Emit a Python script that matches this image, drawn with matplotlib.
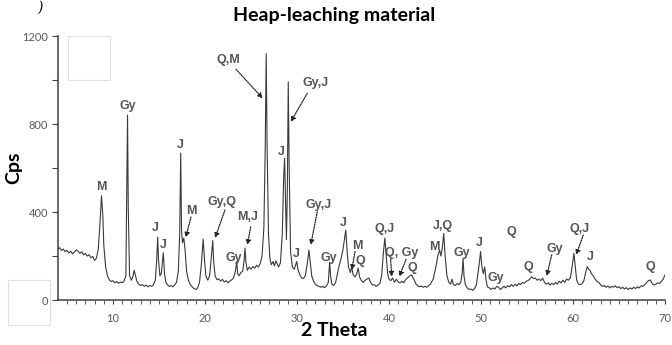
import matplotlib
matplotlib.use("Agg")
import matplotlib.pyplot as plt
from matplotlib.patches import Rectangle

# diffractogram vertices: 2 theta (deg), intensity (cps)
two_theta = [
    4.0, 4.2, 4.4, 4.6, 4.8, 5.0, 5.2, 5.4, 5.6, 5.8, 6.0, 6.2, 6.4, 6.6, 6.8,
    7.0, 7.2, 7.4, 7.6, 7.8, 8.0, 8.2, 8.4, 8.6, 8.75, 8.9, 9.0, 9.2, 9.4, 9.6,
    9.8, 10.0, 10.2, 10.4, 10.6, 10.8, 11.0, 11.2, 11.4, 11.5, 11.58, 11.66,
    11.8, 12.0, 12.15, 12.3, 12.45, 12.6, 12.8, 13.0, 13.2, 13.4, 13.6, 13.8,
    14.0, 14.2, 14.4, 14.6, 14.75, 14.86, 14.95, 15.1, 15.25, 15.47, 15.6,
    15.75, 15.9, 16.1, 16.3, 16.5, 16.7, 16.9, 17.1, 17.25, 17.36, 17.45, 17.55,
    17.7, 17.85, 18.0, 18.2, 18.4, 18.6, 18.8, 19.0, 19.2, 19.4, 19.6, 19.8,
    19.95, 20.1, 20.3, 20.5, 20.7, 20.84, 20.95, 21.1, 21.3, 21.5, 21.7, 21.9,
    22.1, 22.3, 22.5, 22.7, 22.9, 23.1, 23.3, 23.45, 23.55, 23.7, 23.9, 24.1,
    24.25, 24.35, 24.45, 24.6, 24.8, 25.0, 25.2, 25.4, 25.6, 25.8, 26.0, 26.2,
    26.4, 26.55, 26.65, 26.75, 26.9, 27.05, 27.2, 27.4, 27.55, 27.7, 27.85,
    28.0, 28.2, 28.4, 28.55, 28.65, 28.75, 28.85, 28.95, 29.05, 29.15, 29.3,
    29.5, 29.7, 29.85, 29.97, 30.1, 30.3, 30.5, 30.7, 30.9, 31.1, 31.3, 31.45,
    31.6, 31.8, 32.0, 32.2, 32.4, 32.6, 32.8, 33.0, 33.2, 33.4, 33.55, 33.65,
    33.8, 34.0, 34.2, 34.4, 34.6, 34.8, 35.0, 35.2, 35.3, 35.45, 35.6, 35.8,
    35.95, 36.1, 36.3, 36.5, 36.65, 36.8, 37.0, 37.2, 37.4, 37.6, 37.8, 38.0,
    38.2, 38.4, 38.6, 38.8, 39.0, 39.2, 39.4, 39.55, 39.7, 39.85, 40.0, 40.2,
    40.4, 40.6, 40.8, 41.0, 41.2, 41.4, 41.6, 41.8, 42.0, 42.2, 42.45, 42.7,
    42.9, 43.1, 43.3, 43.5, 43.7, 43.9, 44.1, 44.3, 44.5, 44.8, 45.1, 45.3,
    45.5, 45.65, 45.8, 45.95, 46.1, 46.3, 46.5, 46.7, 46.85, 47.0, 47.2, 47.4,
    47.6, 47.8, 47.95, 48.05, 48.15, 48.3, 48.5, 48.7, 48.9, 49.1, 49.3, 49.5,
    49.7, 49.85, 49.95, 50.1, 50.25, 50.4, 50.55, 50.7, 50.9, 51.1, 51.3, 51.5,
    51.7, 51.9, 52.1, 52.3, 52.5, 52.7, 52.9, 53.1, 53.3, 53.5, 53.7, 53.9,
    54.1, 54.3, 54.5, 54.7, 54.9, 55.1, 55.3, 55.5, 55.7, 55.9, 56.1, 56.3,
    56.5, 56.7, 56.9, 57.1, 57.3, 57.5, 57.7, 57.9, 58.1, 58.3, 58.5, 58.7,
    58.9, 59.1, 59.3, 59.5, 59.7, 59.9, 60.1, 60.25, 60.4, 60.6, 60.8, 61.0,
    61.2, 61.4, 61.55, 61.7, 61.85, 62.0, 62.2, 62.4, 62.6, 62.8, 63.0, 63.2,
    63.4, 63.6, 63.8, 64.0, 64.2, 64.4, 64.6, 64.8, 65.0, 65.2, 65.4, 65.6,
    65.8, 66.0, 66.2, 66.4, 66.6, 66.8, 67.0, 67.2, 67.4, 67.6, 67.8, 68.0,
    68.2, 68.4, 68.6, 68.8, 69.0, 69.2, 69.4, 69.6, 69.8, 70.0,
]
cps = [
    230, 238, 225, 232, 220, 226, 214, 222, 210, 218, 228, 222, 212, 220, 205,
    212, 200, 206, 192, 198, 180, 190, 230, 360, 474, 380, 250, 150, 110, 92,
    84, 88, 78, 84, 76, 82, 78, 86, 110, 500, 841, 420,
    110, 90, 105, 135, 110, 85, 72, 66, 70, 62, 68, 60,
    66, 62, 70, 90, 180, 286, 180, 110, 120, 215, 120,
    80, 70, 62, 66, 60, 68, 80, 130, 300, 668, 320, 260,
    282, 220, 130, 90, 70, 60, 52, 48, 55, 80, 160, 277,
    180, 110, 90, 110, 200, 270, 170, 110, 92, 96, 86, 94,
    82, 88, 78, 86, 92, 100, 130, 175, 120, 110, 125, 130,
    180, 236, 170, 135, 150, 140, 152, 145, 158, 150, 165, 200,
    330, 700, 1120, 700, 300, 190, 160, 175, 155, 178, 165,
    150, 170, 300, 560, 645, 450, 275, 500, 992, 600, 220,
    150, 140, 160, 175, 140, 115, 100, 98, 110, 160, 227, 170,
    110, 85, 72, 65, 62, 58, 62, 56, 64, 80, 172, 110,
    70, 66, 80, 120, 160, 190, 230, 290, 318, 220, 150, 125,
    150, 115, 105, 120, 145, 105, 88, 80, 90, 95, 100, 80,
    68, 70, 62, 68, 75, 110, 220, 282, 200, 120, 95, 88,
    100, 80, 95, 82, 78, 85, 78, 92, 100, 108, 114, 95,
    75, 65, 60, 64, 58, 62, 58, 66, 72, 95, 150, 200,
    227, 200, 240, 303, 200, 110, 80, 72, 95, 70, 66, 75,
    70, 80, 120, 190, 110, 70, 55, 48, 50, 44, 52, 70,
    130, 180, 220, 150, 120, 151, 90, 60, 55, 48, 55, 50,
    62, 58, 48, 55, 62, 55, 65, 60, 70, 62, 72, 64,
    75, 70, 80, 76, 85, 88, 95, 106, 98, 100, 90, 95,
    88, 100, 80, 72, 78, 68, 76, 70, 80, 72, 85, 78,
    90, 80, 95, 90, 100, 150, 212, 150, 90, 72, 70, 75,
    90, 130, 152, 140, 135, 120, 110, 95, 85, 80, 70, 62,
    66, 58, 64, 55, 62, 58, 65, 56, 60, 52, 58, 50,
    56, 48, 55, 50, 58, 52, 60, 55, 65, 62, 70, 80,
    88, 91, 75, 68, 72, 78, 75, 85, 95, 114,
]

# phase labels (text, 2 theta, cps)
peak_labels = [
    ("M", 8.7, 512), ("Gy", 11.63, 882), ("J", 14.57, 327), ("J", 15.47, 250),
    ("J", 17.28, 705), ("M", 18.48, 406), ("Gy,Q", 21.82, 447),
    ("Gy", 23.08, 190), ("M,J", 24.6, 376), ("Q,M", 22.53, 1091),
    ("J", 28.34, 671), ("Gy,J", 32.07, 985), ("J", 29.97, 209),
    ("Gy,J", 32.39, 432), ("Gy", 33.48, 192), ("J", 35.03, 349),
    ("M", 36.55, 245), ("Q", 36.92, 179), ("Q,J", 39.57, 321),
    ("Q, Gy", 41.41, 215), ("Q", 42.53, 144), ("M", 44.92, 242),
    ("J,Q", 45.9, 336), ("Gy", 47.9, 215), ("J", 49.76, 260),
    ("Gy", 51.57, 99), ("Q", 53.34, 310), ("Q", 55.14, 149),
    ("Gy", 58.04, 230), ("Q,J", 60.76, 321), ("J", 61.85, 194),
    ("Q", 68.37, 151),
]

# dotted arrows: (tail x, tail y, head x, head y)
arrows = [
    (23.37, 1049, 26.27, 917), (31.12, 940, 29.32, 810),
    (18.48, 377, 17.9, 284), (22.17, 409, 21.09, 282),
    (24.97, 333, 24.6, 250), (32.2, 401, 31.49, 250),
    (36.3, 220, 35.95, 136), (40.18, 185, 40.29, 106),
    (41.85, 185, 41.12, 106), (57.68, 205, 57.14, 109),
    (61.12, 295, 60.33, 205),
]

y_ticks = [0, 200, 400, 600, 800, 1000, 1200]
y_ticklabels = ["0", "", "400", "", "800", "", "1200"]
x_ticks = [10, 20, 30, 40, 50, 60, 70]

fig = plt.figure(figsize=(6.72, 3.45), dpi=100)
ax = fig.add_axes([0.086, 0.1304, 0.9036, 0.765])

ax.plot(two_theta, cps, color="#3a3a3a", lw=0.8)

for txt, x, y in peak_labels:
    ax.text(x, y, txt, ha="center", va="center", fontsize=9,
            fontweight="bold", family="Liberation Sans", color="#555555")

for x0, y0, x1, y1 in arrows:
    ax.annotate("", xy=(x1, y1), xytext=(x0, y0),
                arrowprops=dict(arrowstyle="-|>", linestyle=(0, (1, 1)),
                                color="#222222", lw=0.9,
                                mutation_scale=7, shrinkA=0, shrinkB=0))

ax.set_xlim(4, 70)
ax.set_ylim(0, 1200)
ax.set_xticks(x_ticks)
ax.set_xticks(range(5, 71), minor=True)
ax.set_yticks(y_ticks)
ax.set_yticklabels(y_ticklabels)

for s in ["top", "right"]:
    ax.spines[s].set_visible(False)
for s in ["left", "bottom"]:
    ax.spines[s].set_color("#404040")
    ax.spines[s].set_linewidth(1.1)

ax.tick_params(axis="both", which="both", direction="out", color="#404040",
               labelcolor="#595959", labelsize=8)
ax.tick_params(axis="x", which="major", length=3, pad=6)
ax.tick_params(axis="x", which="minor", length=3)
ax.tick_params(axis="y", length=4, pad=3)
for lab in ax.get_xticklabels() + ax.get_yticklabels():
    lab.set_family("Lato")

ax.set_title("Heap-leaching material", fontsize=14, fontweight="bold",
             family="Lato", x=0.455, pad=11)
ax.set_xlabel("2 Theta", fontsize=14, fontweight="bold", family="Lato")
ax.xaxis.set_label_coords(0.455, -0.085)
ax.set_ylabel("Cps", fontsize=14, fontweight="bold", family="Lato")
ax.yaxis.set_label_coords(-0.058, 0.5)

# light frames and panel letter seen in the source image
fig.patches.append(Rectangle((68 / 672, 1 - 80 / 345), 42 / 672, 44 / 345,
                             transform=fig.transFigure, fill=False,
                             ec="#e0e0e0", lw=0.8))
fig.patches.append(Rectangle((8 / 672, 1 - 325 / 345), 42 / 672, 45 / 345,
                             transform=fig.transFigure, fill=False,
                             ec="#e0e0e0", lw=0.8))
fig.text(40 / 672, 0.998, ")", fontsize=10, ha="center", va="top",
         family="DejaVu Serif", style="italic")

fig.savefig("out.png", dpi=100)
